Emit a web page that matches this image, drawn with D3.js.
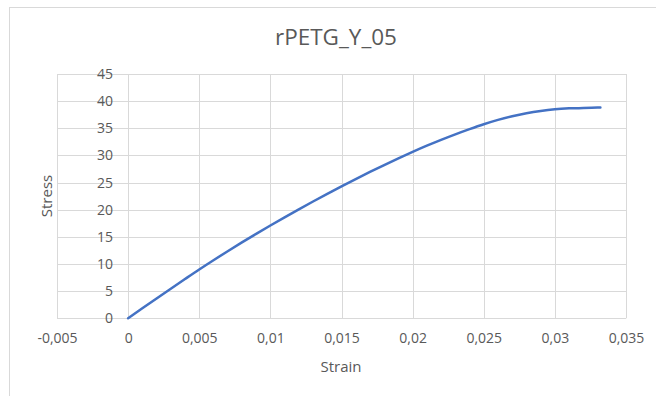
<!DOCTYPE html>
<html>
<head>
<meta charset="utf-8">
<script src="https://cdn.jsdelivr.net/npm/d3@7"></script>
<style>
  html, body { margin: 0; padding: 0; background: #fff; }
  svg { display: block; }
  text { font-family: "Open Sans", "Liberation Sans", sans-serif; fill: #595959; }
</style>
</head>
<body>
<svg id="chart" width="656" height="396"></svg>
<script>
// Tensile test: engineering strain vs stress
const chartTitle = "rPETG_Y_05";
const strain = [0, 0.001, 0.002, 0.003, 0.004, 0.005, 0.006, 0.007, 0.008, 0.009,
  0.010, 0.011, 0.012, 0.013, 0.014, 0.015, 0.016, 0.017, 0.018, 0.019,
  0.020, 0.021, 0.022, 0.023, 0.024, 0.025, 0.026, 0.027, 0.028, 0.029,
  0.030, 0.031, 0.032, 0.033, 0.0332];
const stress = [0, 1.84, 3.66, 5.46, 7.24, 9.00, 10.70, 12.36, 13.98, 15.56,
  17.10, 18.60, 20.07, 21.51, 22.92, 24.30, 25.65, 26.96, 28.23, 29.46,
  30.65, 31.79, 32.87, 33.89, 34.85, 35.75, 36.55, 37.23, 37.78, 38.20,
  38.50, 38.67, 38.76, 38.81, 38.82];
const xTicks = [-0.005, 0, 0.005, 0.01, 0.015, 0.02, 0.025, 0.03, 0.035];
const yTicks = [0, 5, 10, 15, 20, 25, 30, 35, 40, 45];

const locale = d3.formatLocale({ decimal: ",", thousands: ".", grouping: [3], currency: ["", ""], minus: "-" });
const fmt = locale.format("~g");

const svg = d3.select("#chart");

// chart frame
svg.append("rect")
  .attr("x", 9.5).attr("y", 7.5)
  .attr("width", 660).attr("height", 400)
  .attr("fill", "#fff").attr("stroke", "#d9d9d9").attr("stroke-width", 1);

const x = d3.scaleLinear().domain([-0.005, 0.035]).range([57, 626]);
const y = d3.scaleLinear().domain([0, 45]).range([318.3, 74]);

// gridlines
const grid = svg.append("g").attr("stroke", "#d9d9d9").attr("stroke-width", 1);
grid.selectAll("line.h").data(yTicks).join("line")
  .attr("x1", x(-0.005)).attr("x2", x(0.035))
  .attr("y1", d => Math.round(y(d)) + 0.5).attr("y2", d => Math.round(y(d)) + 0.5);
grid.selectAll("line.v").data(xTicks).join("line")
  .attr("y1", y(45)).attr("y2", y(0))
  .attr("x1", d => Math.round(x(d)) + 0.5).attr("x2", d => Math.round(x(d)) + 0.5);

// x axis labels below the plot
const xAxis = d3.axisBottom(x).tickValues(xTicks).tickFormat(fmt).tickSize(0).tickPadding(15);
const gx = svg.append("g").attr("transform", `translate(0,${y(0)})`).call(xAxis);
gx.select(".domain").remove();
gx.selectAll("text").attr("font-size", 14).attr("fill", "#595959")
  .style("font-family", "'Open Sans', sans-serif");

// y axis labels along the zero-strain axis
const yAxis = d3.axisLeft(y).tickValues(yTicks).tickFormat(fmt).tickSize(0).tickPadding(15);
const gy = svg.append("g").attr("transform", `translate(${x(0)},0)`).call(yAxis);
gy.select(".domain").remove();
gy.selectAll("text").attr("font-size", 14).attr("fill", "#595959")
  .style("font-family", "'Open Sans', sans-serif");

// curve
const pts = strain.map((s, i) => [s, stress[i]]);
svg.append("path")
  .datum(pts)
  .attr("fill", "none")
  .attr("stroke", "#4472c4")
  .attr("stroke-width", 2.5)
  .attr("stroke-linecap", "round")
  .attr("stroke-linejoin", "round")
  .attr("d", d3.line().x(d => x(d[0])).y(d => y(d[1])).curve(d3.curveMonotoneX));

// titles
svg.append("text").attr("x", 336).attr("y", 45)
  .attr("text-anchor", "middle").attr("font-size", 22.5).text(chartTitle);
svg.append("text").attr("x", 341).attr("y", 372)
  .attr("text-anchor", "middle").attr("font-size", 15).text("Strain");
svg.append("text")
  .attr("transform", "translate(52,196) rotate(-90)")
  .attr("text-anchor", "middle").attr("font-size", 15).text("Stress");
</script>
</body>
</html>
